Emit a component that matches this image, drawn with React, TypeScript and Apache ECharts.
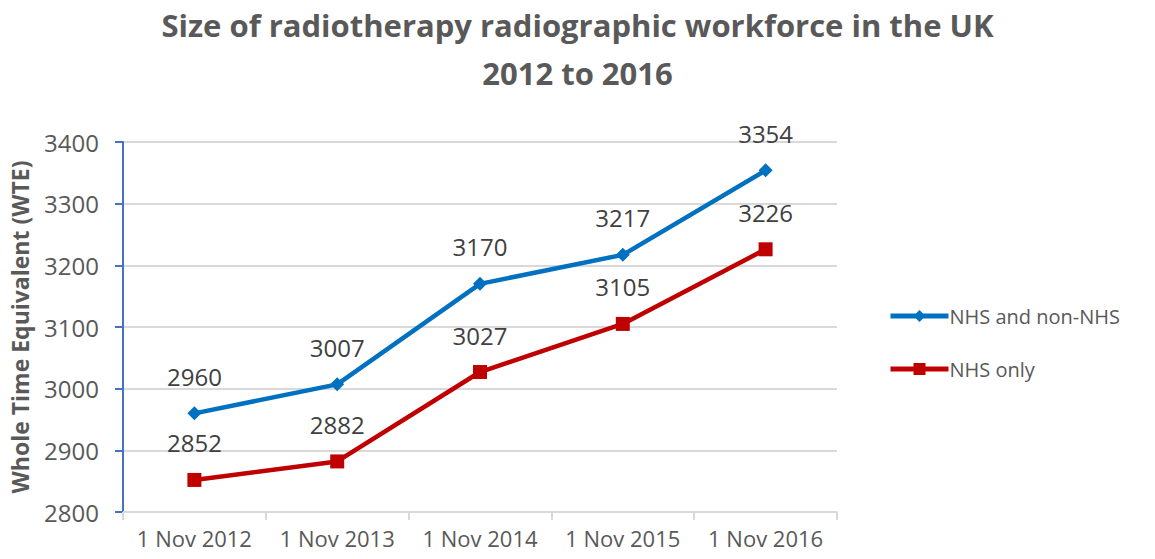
import React, { useEffect, useRef } from "react";
import * as echarts from "echarts";

const categories = ["1 Nov 2012", "1 Nov 2013", "1 Nov 2014", "1 Nov 2015", "1 Nov 2016"];
const nhsAndNonNhs = [2960, 3007, 3170, 3217, 3354];
const nhsOnly = [2852, 2882, 3027, 3105, 3226];
const seriesNames = ["NHS and non-NHS", "NHS only"];
const titleText = "Size of radiotherapy radiographic workforce in the UK\n2012 to 2016";
const yAxisTitle = "Whole Time Equivalent (WTE)";

export default function App() {
  const ref = useRef<HTMLDivElement>(null);
  useEffect(() => {
    if (!ref.current) return;
    const chart = echarts.init(ref.current, null, { renderer: "svg" });
    const font = "'Open Sans', sans-serif";
    const labelStyle = {
      show: true,
      position: "top" as const,
      distance: 18,
      fontSize: 24,
      color: "#404040",
      fontFamily: font,
    };
    chart.setOption({
      animation: false,
      backgroundColor: "#ffffff",
      title: {
        text: titleText,
        left: "center",
        top: -4,
        textStyle: {
          fontFamily: font,
          fontWeight: "bold",
          fontSize: 31,
          lineHeight: 48,
          color: "#595959",
        },
      },
      grid: { left: 123, right: 318, top: 142, bottom: 47, containLabel: false },
      legend: {
        orient: "vertical",
        left: 883,
        top: 301,
        itemWidth: 58,
        itemHeight: 15,
        itemGap: 33,
        lineStyle: { width: 5 },
        textStyle: { fontFamily: font, fontSize: 20, color: "#595959", padding: [0, 0, 0, -4] },
        data: seriesNames,
      },
      xAxis: {
        type: "category",
        data: categories,
        boundaryGap: true,
        axisLine: { show: true, lineStyle: { color: "#d9d9d9", width: 2 } },
        axisTick: { show: true, length: 8, lineStyle: { color: "#d9d9d9", width: 2 } },
        axisLabel: { fontFamily: font, fontSize: 22, color: "#595959", margin: 15, interval: 0 },
        splitLine: { show: false },
      },
      yAxis: {
        type: "value",
        min: 2800,
        max: 3400,
        interval: 100,
        name: yAxisTitle,
        nameLocation: "middle",
        nameGap: 92,
        nameRotate: 90,
        nameTextStyle: { fontFamily: font, fontSize: 23, fontWeight: "bold", color: "#595959" },
        axisLine: { show: true, lineStyle: { color: "#4472C4", width: 2 } },
        axisTick: { show: true, length: 8, lineStyle: { color: "#4472C4", width: 2 } },
        axisLabel: {
          fontFamily: font,
          fontSize: 24,
          color: "#595959",
          margin: 24,
          formatter: (v: number) => String(v),
        },
        splitLine: { show: true, lineStyle: { color: "#d9d9d9", width: 2 } },
      },
      series: [
        {
          name: seriesNames[0],
          type: "line",
          data: nhsAndNonNhs,
          symbol: "diamond",
          symbolSize: 14,
          lineStyle: { color: "#0070C0", width: 4.5 },
          itemStyle: { color: "#0070C0" },
          label: labelStyle,
        },
        {
          name: seriesNames[1],
          type: "line",
          data: nhsOnly,
          symbol: "rect",
          symbolSize: 14,
          lineStyle: { color: "#C00000", width: 4.5 },
          itemStyle: { color: "#C00000" },
          label: labelStyle,
        },
      ],
    });
    return () => chart.dispose();
  }, []);
  return (
    <div
      ref={ref}
      style={{ position: "fixed", left: 0, top: 0, width: 1155, height: 559 }}
    />
  );
}
